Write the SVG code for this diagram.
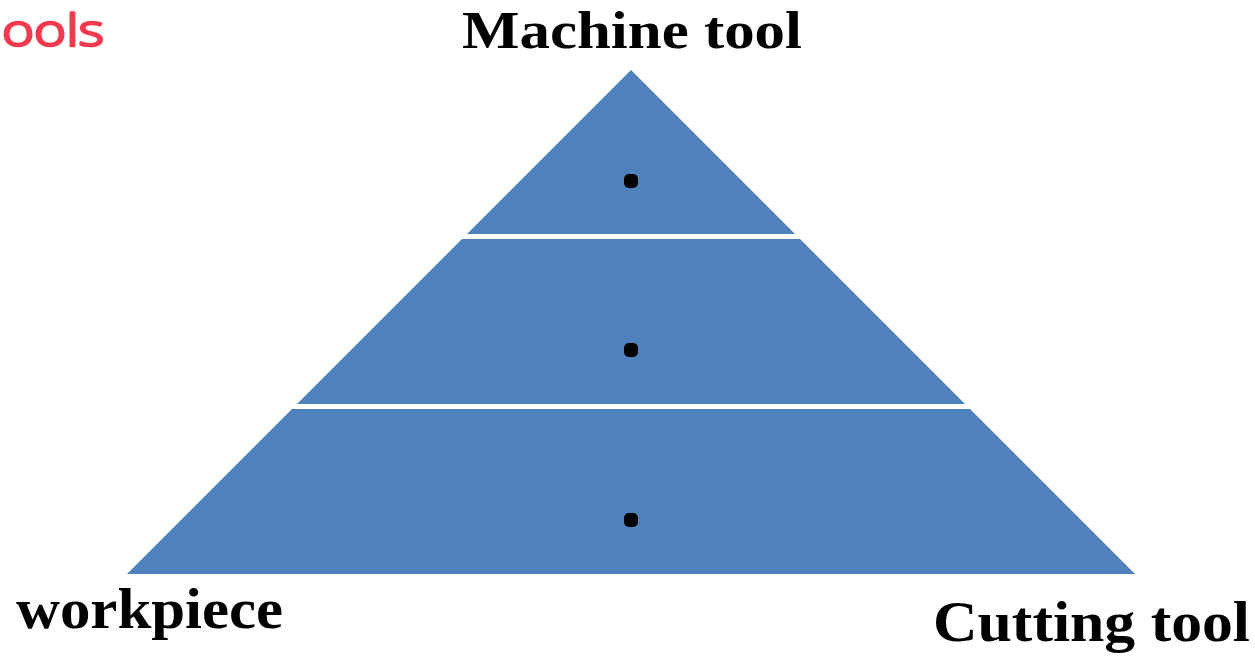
<svg xmlns="http://www.w3.org/2000/svg" width="1255" height="658" viewBox="0 0 1255 658">
<style>
.tier{fill:#4F81BD;}
.dot{fill:#000000;}
.lbl{font-family:"Liberation Serif","Times New Roman",serif;font-weight:bold;fill:#000000;}
.ink{font-family:"Open Sans","Liberation Sans",sans-serif;font-weight:300;fill:#F23A4E;stroke:#F23A4E;stroke-width:2.5;stroke-linejoin:round;}
</style>
<rect x="0" y="0" width="1255" height="658" fill="#FFFFFF"/>
<text class="ink" x="2" y="46" font-size="44" textLength="102" lengthAdjust="spacingAndGlyphs">ools</text>
<g id="tier-top">
<polygon class="tier" points="631,70 795,234 467,234"/>
<rect class="dot" x="624" y="174" width="14" height="14" rx="5"/>
</g>
<g id="tier-middle">
<polygon class="tier" points="462,239 800,239 965,404 297,404"/>
<rect class="dot" x="624" y="343" width="14" height="14" rx="5"/>
</g>
<g id="tier-bottom">
<polygon class="tier" points="292,409 970,409 1135,574 127,574"/>
<rect class="dot" x="624" y="513" width="14" height="14" rx="5"/>
</g>
<g id="connectors"></g>
<g id="label-machine">
<text class="lbl" x="462" y="48" font-size="52" textLength="340" lengthAdjust="spacingAndGlyphs">Machine tool</text>
</g>
<g id="label-workpiece">
<text class="lbl" x="16" y="628" font-size="56" textLength="267" lengthAdjust="spacingAndGlyphs">workpiece</text>
</g>
<g id="label-cutting">
<text class="lbl" x="933" y="641" font-size="56" textLength="317" lengthAdjust="spacingAndGlyphs">Cutting tool</text>
</g>
</svg>
